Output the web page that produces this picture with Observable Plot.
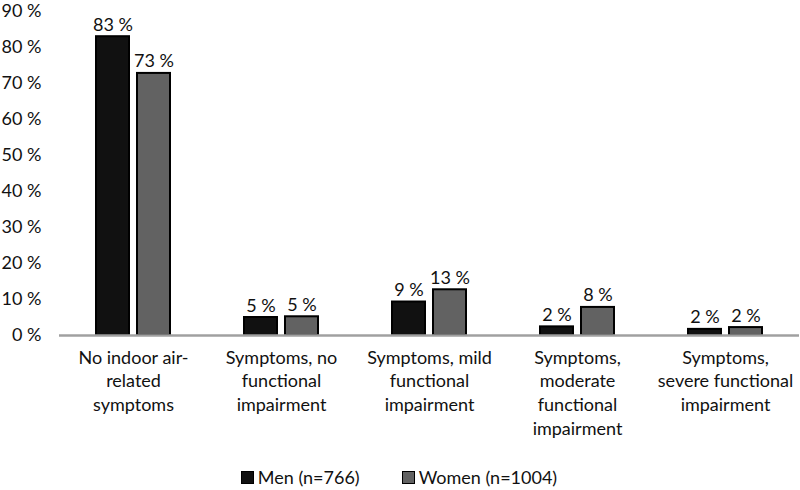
<!DOCTYPE html>
<html>
<head>
<meta charset="utf-8">
<script src="https://cdn.jsdelivr.net/npm/d3@7"></script>
<script src="https://cdn.jsdelivr.net/npm/@observablehq/plot@0.6"></script>
<style>
  html, body { margin: 0; padding: 0; background: #fff; }
  body { width: 800px; height: 490px; overflow: hidden; font-family: Lato, "Open Sans", sans-serif; }
  #legend { display: flex; justify-content: center; align-items: center; gap: 42px; font-size: 18px; color: #111; height: 38px; margin-left: -2px; }
  .item { display: flex; align-items: center; gap: 4px; }
  .sw { width: 11px; height: 11px; border: 1.5px solid #000; display: inline-block; }
</style>
</head>
<body>
<div id="chart"></div>
<div id="legend"></div>
<script>
const categories = [
  "No indoor air-\nrelated\nsymptoms",
  "Symptoms, no\nfunctional\nimpairment",
  "Symptoms, mild\nfunctional\nimpairment",
  "Symptoms,\nmoderate\nfunctional\nimpairment",
  "Symptoms,\nsevere functional\nimpairment"
];
const series = ["Men (n=766)", "Women (n=1004)"];
const menValues = [83, 5, 9.3, 2.4, 1.7];
const womenValues = [72.8, 5.2, 12.7, 7.8, 2.2];
const menLabels = ["83 %", "5 %", "9 %", "2 %", "2 %"];
const womenLabels = ["73 %", "5 %", "13 %", "8 %", "2 %"];
const yTicks = [0, 10, 20, 30, 40, 50, 60, 70, 80, 90];
const colors = ["#111111", "#626262"];

const data = [];
categories.forEach((c, i) => {
  data.push({category: c, sex: series[0], value: menValues[i], label: menLabels[i]});
  data.push({category: c, sex: series[1], value: womenValues[i], label: womenLabels[i]});
});

const chart = Plot.plot({
  width: 800,
  height: 458,
  marginTop: 11,
  marginBottom: 123,
  marginLeft: 59,
  marginRight: 1,
  style: {fontFamily: "Lato, 'Open Sans', sans-serif", fontSize: "18px", color: "#111", overflow: "visible"},
  fx: {domain: categories, padding: 0},
  x: {domain: series, paddingInner: 0.19, paddingOuter: 0.857, axis: null},
  y: {domain: [0, 90], ticks: yTicks, tickFormat: d => d + " %"},
  color: {domain: series, range: colors},
  marks: [
    Plot.axisY({ticks: yTicks, tickFormat: d => d + " %", tickSize: 0, tickPadding: 18, fontSize: 18, label: null}),
    Plot.axisFx({anchor: "bottom", tickSize: 0, tickPadding: 11, fontSize: 18, lineHeight: 1.33, label: null, lineAnchor: "top"}),
    Plot.barY(data, {fx: "category", x: "sex", y: "value", fill: "sex", stroke: "#000", strokeWidth: 2}),
    Plot.ruleY([0], {stroke: "#a0a0a0", strokeWidth: 2.5}),
    Plot.text(data, {fx: "category", x: "sex", y: "value", text: "label", lineAnchor: "bottom", dy: -6, fontSize: 18, fill: "#111"})
  ]
});
document.getElementById("chart").appendChild(chart);

const legend = document.getElementById("legend");
series.forEach((s, i) => {
  const item = document.createElement("div");
  item.className = "item";
  const sw = document.createElement("span");
  sw.className = "sw";
  sw.style.background = colors[i];
  const t = document.createElement("span");
  t.textContent = s;
  item.appendChild(sw);
  item.appendChild(t);
  legend.appendChild(item);
});
</script>
</body>
</html>
